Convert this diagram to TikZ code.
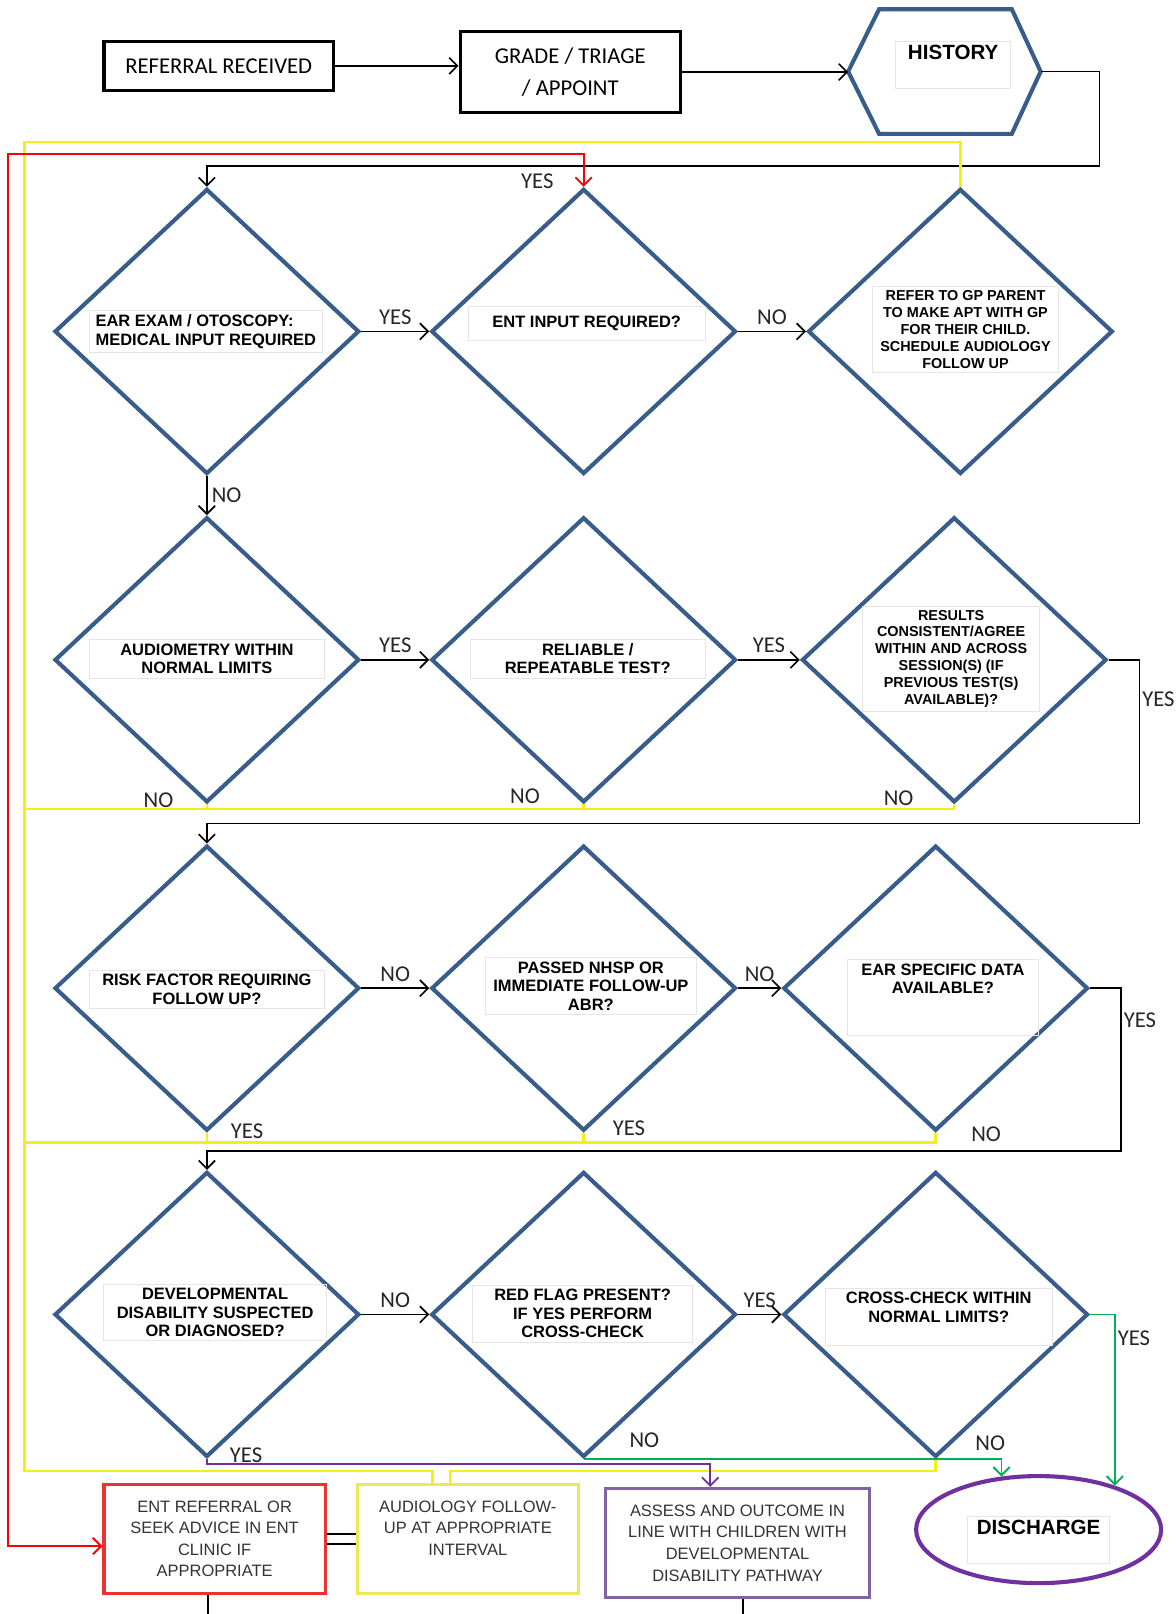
\documentclass[tikz,border=0pt]{standalone}
\usepackage{fontspec}
\setmainfont{Liberation Sans}
\newfontfamily\cfont{Carlito}
\usetikzlibrary{shapes.geometric,arrows.meta,positioning}

\definecolor{diablue}{RGB}{56,93,138}
\definecolor{yelline}{RGB}{245,240,20}
\definecolor{grnline}{RGB}{0,176,80}
\definecolor{purline}{RGB}{112,48,160}
\definecolor{boxred}{RGB}{235,50,50}
\definecolor{boxyel}{RGB}{235,232,90}
\definecolor{boxpur}{RGB}{128,100,162}

\tikzset{
  dia/.style={diamond, draw=diablue, line width=2pt, minimum width=148pt, minimum height=138.5pt, inner sep=0pt},
  qtext/.style={draw=black!10, line width=0.4pt, font=\bfseries\fontsize{8}{9}\selectfont, align=center, inner sep=2pt},
  qsmall/.style={qtext, font=\bfseries\fontsize{7}{8.2}\selectfont},
  topbox/.style={draw, line width=1.5pt, font=\cfont\fontsize{11}{15.5}\selectfont, align=center},
  endbox/.style={line width=1.5pt, minimum width=107.5pt, minimum height=53pt, align=center,
    font=\fontsize{8}{10.5}\selectfont, text=black!80},
  yn/.style={font=\cfont\fontsize{11}{13}\selectfont, inner sep=1pt, text=black!85},
  flow/.style={line width=0.8pt, ->},
  yel/.style={draw=yelline, line width=1.2pt},
  redl/.style={draw=red, line width=0.9pt, <->},
  grn/.style={draw=grnline, line width=0.9pt, ->},
  pur/.style={draw=purline, line width=0.9pt, ->}
}

\begin{document}
\begin{tikzpicture}[x=0.5pt, y=-0.5pt, >={Straight Barb[length=4pt,width=8pt]}]
\useasboundingbox[fill=white] (0,0) rectangle (1142,1568);

% top row
\node[topbox, minimum width=111.5pt, minimum height=24pt] (rr) at (212.5,64) {REFERRAL RECEIVED};
\node[topbox, minimum width=107pt, minimum height=39.5pt] (gt) at (554,70) {GRADE / TRIAGE\\/ APPOINT};
\node[minimum width=93.5pt, minimum height=60.5pt, outer sep=0pt] (hist) at (917.5,69.5) {};
\draw[diablue, line width=2pt] (hist.west) -- ([xshift=15pt]hist.north west) -- ([xshift=-14pt]hist.north east)
  -- (hist.east) -- ([xshift=-14pt]hist.south east) -- ([xshift=15pt]hist.south west) -- cycle;
\node[qtext, font=\bfseries\fontsize{10}{12}\selectfont, minimum width=56pt] (thist) at (926,63) {HISTORY\\~};

% decisions
\foreach \n/\x/\y in {d1/201/322, d2/567/322, d3/933/322, d4/201/641, d5/567/641, d6/927/641,
    d7/201/960, d8/567/960, d9/909/960, d10/201/1277, d11/567/1277, d12/909/1277}
  \node[dia] (\n) at (\x,\y) {};

\node[qtext, align=left, minimum width=113pt] (t1) at (200,322) {EAR EXAM / OTOSCOPY:\\MEDICAL INPUT REQUIRED};
\node[qtext, minimum width=115pt, minimum height=16.5pt] (t2) at (570,314) {ENT INPUT REQUIRED?};
\node[qsmall, minimum width=90pt] (t3) at (938,320) {REFER TO GP PARENT\\TO MAKE APT WITH GP\\FOR THEIR CHILD.\\SCHEDULE AUDIOLOGY\\FOLLOW UP};
\node[qtext, minimum width=114pt] (t4) at (201,640) {AUDIOMETRY WITHIN\\NORMAL LIMITS};
\node[qtext, minimum width=114pt] (t5) at (571,640) {RELIABLE /\\REPEATABLE TEST?};
\node[qsmall, minimum width=86pt] (t6) at (924,640) {RESULTS\\CONSISTENT/AGREE\\WITHIN AND ACROSS\\SESSION(S) (IF\\PREVIOUS TEST(S)\\AVAILABLE)?};
\node[qtext, minimum width=114pt] (t7) at (201,961) {RISK FACTOR REQUIRING\\FOLLOW UP?};
\node[qtext, minimum width=102.5pt] (t8) at (574,958) {PASSED NHSP OR\\IMMEDIATE FOLLOW-UP\\ABR?};
\node[qtext, minimum width=92.5pt] (t9) at (916,969) {EAR SPECIFIC DATA\\AVAILABLE?\\~\\~};
\node[qtext, minimum width=108.5pt] (t10) at (209,1275) {DEVELOPMENTAL\\DISABILITY SUSPECTED\\OR DIAGNOSED?};
\node[qtext, minimum width=107pt] (t11) at (566,1276) {RED FLAG PRESENT?\\IF YES PERFORM\\CROSS-CHECK};
\node[qtext, minimum width=110pt] (t12) at (912,1279) {CROSS-CHECK WITHIN\\NORMAL LIMITS?\\~};

% outcomes
\node[endbox, draw=boxred] (ent) at (208.5,1495) {ENT REFERRAL OR\\SEEK ADVICE IN ENT\\CLINIC IF\\APPROPRIATE};
\node[endbox, draw=boxyel] (aud) at (454.5,1495) {AUDIOLOGY FOLLOW-\\UP AT APPROPRIATE\\INTERVAL\\~};
\node[endbox, draw=boxpur, minimum width=128.5pt] (ass) at (716.5,1499) {ASSESS AND OUTCOME IN\\LINE WITH CHILDREN WITH\\DEVELOPMENTAL\\DISABILITY PATHWAY};
\node[ellipse, draw=purline, line width=2pt, minimum width=119pt, minimum height=52pt] (dis) at (1009,1486) {};
\node[qtext, font=\bfseries\fontsize{10}{12}\selectfont, minimum width=69pt] (tdis) at (1009,1496) {DISCHARGE\\~};

% main flow
\coordinate (k1) at (1068,161);
\coordinate (k2) at (1107,800);
\coordinate (k3) at (1089,1118);
\draw[flow] (rr.east) -- (rr.east -| gt.west);
\draw[flow] (gt.east) -- (gt.east -| hist.west);
\draw[flow] (hist.east) -| (k1) -| (d1.north);
\draw[flow] (d1) -- node[yn, above=2pt] {YES} (d2);
\draw[flow] (d2) -- node[yn, above=2pt] {NO} (d3);
\draw[flow] (d1) -- node[yn, right=1pt] {NO} (d4);
\draw[flow] (d4) -- node[yn, above=2pt] {YES} (d5);
\draw[flow] (d5) -- node[yn, above=2pt] {YES} (d6);
\draw[flow] (d6.east) -| node[yn, right, pos=0.62] {YES} (k2) -| (d7.north);
\draw[flow] (d7) -- node[yn, above=2pt] {NO} (d8);
\draw[flow] (d8) -- node[yn, above=2pt] {NO} (d9);
\draw[flow] (d9.east) -| node[yn, right, pos=0.6] {YES} (k3) -| (d10.north);
\draw[flow] (d10) -- node[yn, above=2pt] {NO} (d11);
\draw[flow] (d11) -- node[yn, above=2pt] {YES} (d12);

% yellow: audiology follow-up
\coordinate (ytop) at (24,138);
\coordinate (ybot) at (24,1429);
\coordinate (yl) at (420,1429);
\coordinate (yr) at (437,1429);
\coordinate (r2) at (24,786);
\coordinate (r3) at (24,1110);
\draw[yel] (d3.north) |- (ytop) -- (ybot) -- (yl) -- (yl |- aud.north);
\draw[yel] (d4.south) -- node[yn, at start, xshift=-23.5pt, yshift=2pt] {NO} (d4.south |- r2);
\draw[yel] (d5.south) -- node[yn, at start, xshift=-28.5pt, yshift=4pt] {NO} (d5.south |- r2);
\draw[yel] (d6.south) -- node[yn, at start, xshift=-27pt, yshift=3pt] {NO} (d6.south |- r2) -- (r2);
\draw[yel] (d7.south) -- node[yn, at start, xshift=19.5pt, yshift=1pt] {YES} (d7.south |- r3);
\draw[yel] (d8.south) -- node[yn, at start, xshift=22pt, yshift=2pt] {YES} (d8.south |- r3);
\draw[yel] (d9.south) -- node[yn, at start, xshift=24.5pt, yshift=-0.5pt] {NO} (d9.south |- r3) -- (r3);
\draw[yel] (d12.south) -- node[yn, at start, xshift=26.5pt, yshift=7.5pt] {NO} (d12.south |- yr) -- (yr) -- (yr |- aud.north);

% red: ENT referral
\coordinate (rtop) at (8,150);
\draw[redl] (d2.north) -- node[yn, at start, xshift=-22.5pt, yshift=2.5pt] {YES} (d2.north |- rtop) -- (rtop) |- ([yshift=-3.5pt]ent.west);

% purple and green
\coordinate (pr) at (690,1422);
\draw[pur] (d10.south) -- node[yn, at start, xshift=19pt, yshift=2pt] {YES} (d10.south |- pr) -- (pr) -- (pr |- ass.north);
\draw[grn] (d11.south) -- node[yn, at start, xshift=29.5pt, yshift=9pt] {NO} (d11.south -| dis.125) -- (dis.125);
\draw[grn] (d12.east) -| node[yn, right, pos=0.57] {YES} (dis.30);

% links at the bottom
\coordinate (b1) at (202,1568);
\coordinate (b2) at (722,1568);
\draw[line width=0.8pt] ([yshift=2.5pt]ent.east) -- ([yshift=2.5pt]ent.east -| aud.west);
\draw[line width=0.8pt] ([yshift=-2.5pt]ent.east) -- ([yshift=-2.5pt]ent.east -| aud.west);
\draw[line width=0.8pt] (b1 |- ent.south) -- (b1);
\draw[line width=0.8pt] (b2 |- ass.south) -- (b2);
\end{tikzpicture}
\end{document}
